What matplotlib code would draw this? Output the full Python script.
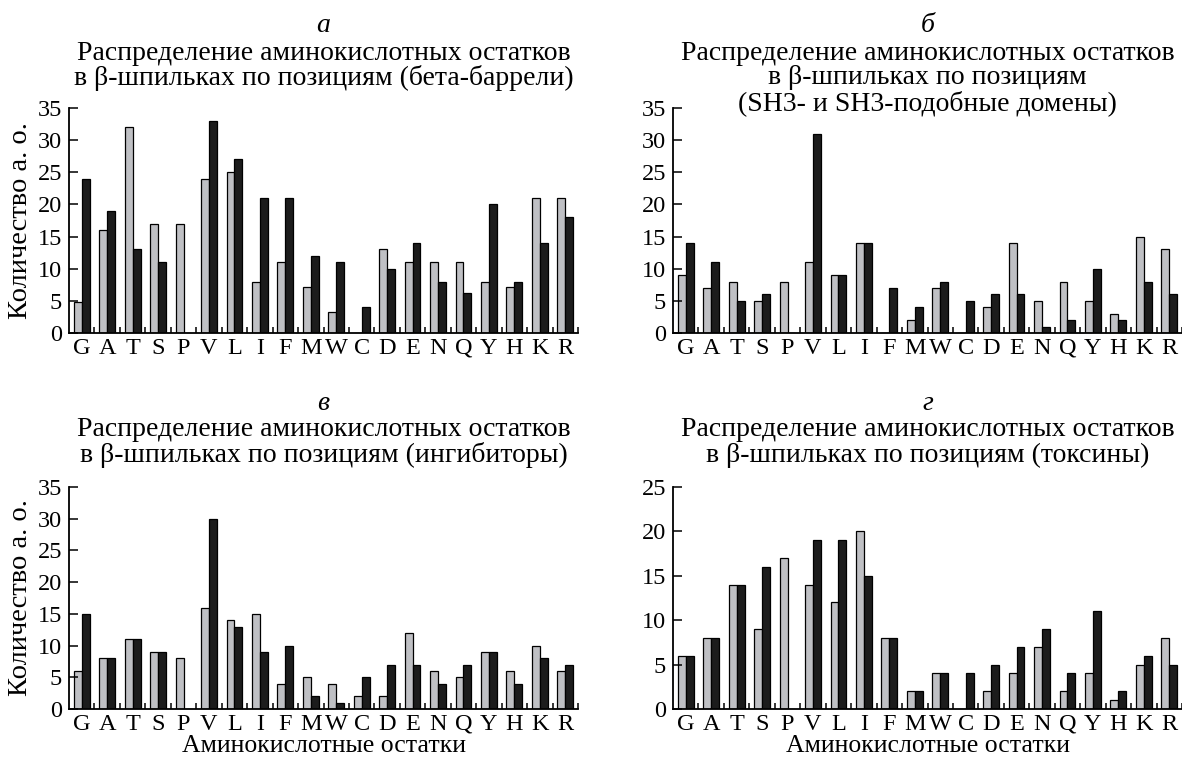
import matplotlib
matplotlib.use("Agg")
import matplotlib.pyplot as plt
import numpy as np

plt.rcParams['font.family'] = ['Liberation Serif', 'DejaVu Serif']

residues = ["G", "A", "T", "S", "P", "V", "L", "I", "F", "M", "W", "C", "D", "E", "N", "Q", "Y", "H", "K", "R"]

# panel а (бета-баррели)
a_gray = [4.8, 16, 32, 17, 17, 24, 25, 8, 11, 7.2, 3.2, 0, 13, 11, 11, 11, 8, 7.2, 21, 21]
a_black = [24, 19, 13, 11, 0, 33, 27, 21, 21, 12, 11, 4, 10, 14, 8, 6.2, 20, 8, 14, 18]
# panel б (SH3)
b_gray = [9, 7, 8, 5, 8, 11, 9, 14, 0, 2, 7, 0, 4, 14, 5, 8, 5, 3, 15, 13]
b_black = [14, 11, 5, 6, 0, 31, 9, 14, 7, 4, 8, 5, 6, 6, 1, 2, 10, 2, 8, 6]
# panel в (ингибиторы)
c_gray = [6, 8, 11, 9, 8, 16, 14, 15, 4, 5, 4, 2, 2, 12, 6, 5, 9, 6, 10, 6]
c_black = [15, 8, 11, 9, 0, 30, 13, 9, 10, 2, 1, 5, 7, 7, 4, 7, 9, 4, 8, 7]
# panel г (токсины)
d_gray = [6, 8, 14, 9, 17, 14, 12, 20, 8, 2, 4, 0, 2, 4, 7, 2, 4, 1, 5, 8]
d_black = [6, 8, 14, 16, 0, 19, 19, 15, 8, 2, 4, 4, 5, 7, 9, 4, 11, 2, 6, 5]

letters = ["а", "б", "в", "г"]
titles = [
    ["Распределение аминокислотных остатков", "в β-шпильках по позициям (бета-баррели)"],
    ["Распределение аминокислотных остатков", "в β-шпильках по позициям", "(SH3- и SH3-подобные домены)"],
    ["Распределение аминокислотных остатков", "в β-шпильках по позициям (ингибиторы)"],
    ["Распределение аминокислотных остатков", "в β-шпильках по позициям (токсины)"],
]
ymaxes = [35, 35, 35, 25]
ylabel = "Количество а. о."
xlabel = "Аминокислотные остатки"

W, H = 1182, 765
fig = plt.figure(figsize=(W / 100, H / 100), dpi=100)

def px(x0, y_top, x1, y_bot):
    return [x0 / W, 1 - y_bot / H, (x1 - x0) / W, (y_bot - y_top) / H]

boxes = [px(69, 108, 578, 333), px(673, 108, 1182, 333),
         px(69, 487, 578, 709), px(673, 487, 1182, 709)]
letter_ys = [26, 26, 403, 403]

data = [(a_gray, a_black), (b_gray, b_black), (c_gray, c_black), (d_gray, d_black)]
gray = "#bfc0c4"
blk = "#1c1c1c"
TFS = 17.5
TTL = 20
YFS = 20.5
XFS = 18.5
bw = 0.31
for k, (box, (g, b)) in enumerate(zip(boxes, data)):
    ax = fig.add_axes(box)
    x = np.arange(len(residues)) + 0.5
    ax.bar(x - bw / 2, g, width=bw, color=gray, edgecolor="black", linewidth=0.9)
    ax.bar(x + bw / 2, b, width=bw, color=blk, edgecolor="black", linewidth=0.9)
    ax.set_xlim(0, len(residues))
    ax.set_ylim(0, ymaxes[k])
    ax.set_yticks(np.arange(0, ymaxes[k] + 1, 5))
    ax.set_xticks(x)
    ax.set_xticklabels(residues)
    ax.set_xticks(np.arange(1, len(residues) + 1), minor=True)
    ax.tick_params(axis="x", which="major", length=0, pad=3.5, labelsize=TFS)
    ax.tick_params(axis="x", which="minor", direction="in", length=4, width=1.1)
    ax.tick_params(axis="y", direction="in", length=6.5, width=1.1, pad=5, labelsize=TFS)
    for s in ["top", "right"]:
        ax.spines[s].set_visible(False)
    for s in ["left", "bottom"]:
        ax.spines[s].set_linewidth(1.3)
    if k in (0, 2):
        ax.set_ylabel(ylabel, fontsize=YFS, labelpad=3)
    if k in (2, 3):
        ax.set_xlabel(xlabel, fontsize=XFS, labelpad=0)
    cx = (box[0] + box[2] / 2)
    ly = letter_ys[k]
    fig.text(cx, 1 - ly / H, letters[k], ha="center", va="center",
             fontsize=TTL, style="italic")
    for i, t in enumerate(titles[k]):
        yy = ly + 27 + 25 * i
        fig.text(cx, 1 - yy / H, t, ha="center", va="center", fontsize=TTL)

fig.savefig("out.png", dpi=100)
